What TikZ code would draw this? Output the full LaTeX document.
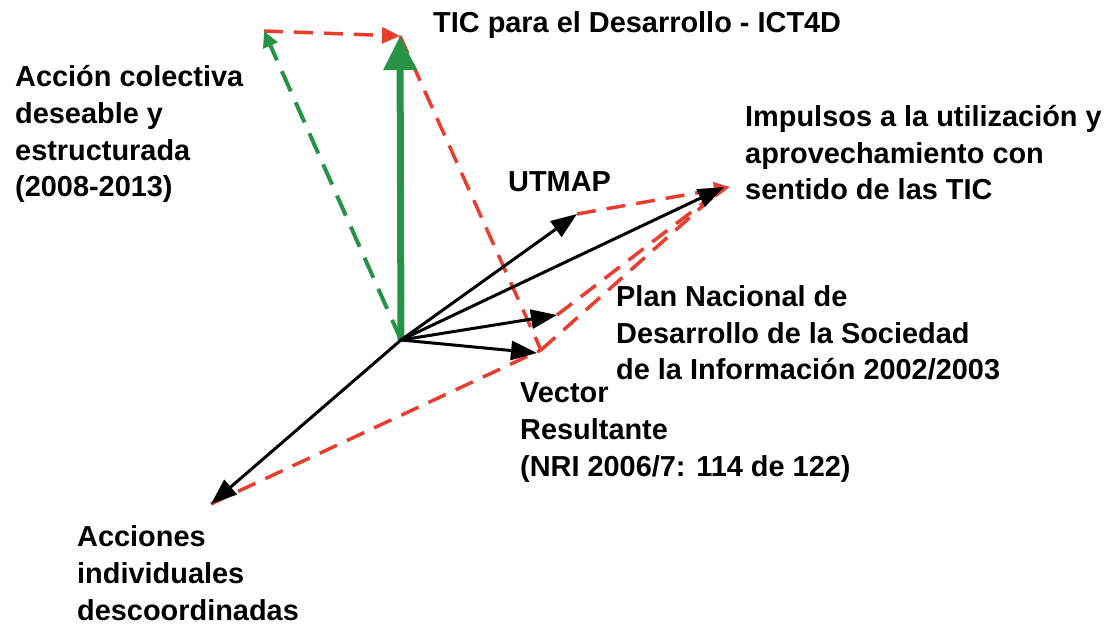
\documentclass[tikz,border=0pt]{standalone}
\usepackage{fontspec}
\setmainfont{Liberation Sans}
\usetikzlibrary{arrows.meta}
\definecolor{vecgreen}{RGB}{38,148,68}
\definecolor{vecred}{RGB}{232,62,48}

\begin{document}
\begin{tikzpicture}[x=1pt,y=-1pt,
  lbl/.style={anchor=base west,inner sep=0pt,align=left,
    font=\fontsize{28.9}{36.7}\selectfont\bfseries},
  vec/.style={line width=3pt,-{Triangle[length=26pt,width=19pt]}},
  reddash/.style={vecred,line width=3.5pt,dash pattern=on 19pt off 11pt}]
  \useasboundingbox (0,0) rectangle (1112,628);
  % tips of the vectors
  \coordinate (O) at (401,340);
  \coordinate (ict) at (400,36);
  \coordinate (colec) at (264,31);
  \coordinate (indiv) at (211,504);
  \coordinate (utmap) at (577,214);
  \coordinate (impul) at (724,187);
  \coordinate (plan) at (557,315);
  \coordinate (result) at (537,353);
  \coordinate (corner) at (541,350);
  % red dashed sums
  \draw[reddash,-{Triangle[length=18pt,width=16pt]}] (colec) -- (ict);
  \draw[reddash] (ict) -- (corner);
  \draw[reddash] (indiv) -- (corner);
  \draw[reddash] (corner) -- (impul);
  \draw[reddash] (plan) -- (impul);
  \draw[reddash,-{Triangle[length=16pt,width=15pt]}] (utmap) -- ([xshift=6pt]impul);
  % green vectors
  \draw[vecgreen,line width=4pt,dash pattern=on 22pt off 12pt,
    -{Triangle[length=16pt,width=15pt]}] (O) -- (colec);
  \draw[vecgreen,line width=7pt,-{Triangle[length=34pt,width=32pt]}] (O) -- (ict);
  % black vectors
  \foreach \t in {indiv,utmap,impul,plan,result}
    \draw[vec] (O) -- (\t);
  % labels (base = last line)
  \node[lbl] (ltic) at (433,33) {TIC para el Desarrollo - ICT4D};
  \node[lbl] (lcolec) at (15,197) {Acción colectiva\\deseable y\\estructurada\\(2008-2013)};
  \node[lbl] (limpul) at (745,200) {Impulsos a la utilización y\\aprovechamiento con\\sentido de las TIC};
  \node[lbl] (lutmap) at (508,192) {UTMAP};
  \node[lbl] (lplan) at (616,380) {Plan Nacional de\\Desarrollo de la Sociedad\\de la Información 2002/2003};
  \node[lbl] (lresult) at (520,476) {Vector\\Resultante\\(NRI 2006/7: 114 de 122)};
  \node[lbl] (lindiv) at (77,620) {Acciones\\individuales\\descoordinadas};
\end{tikzpicture}
\end{document}
